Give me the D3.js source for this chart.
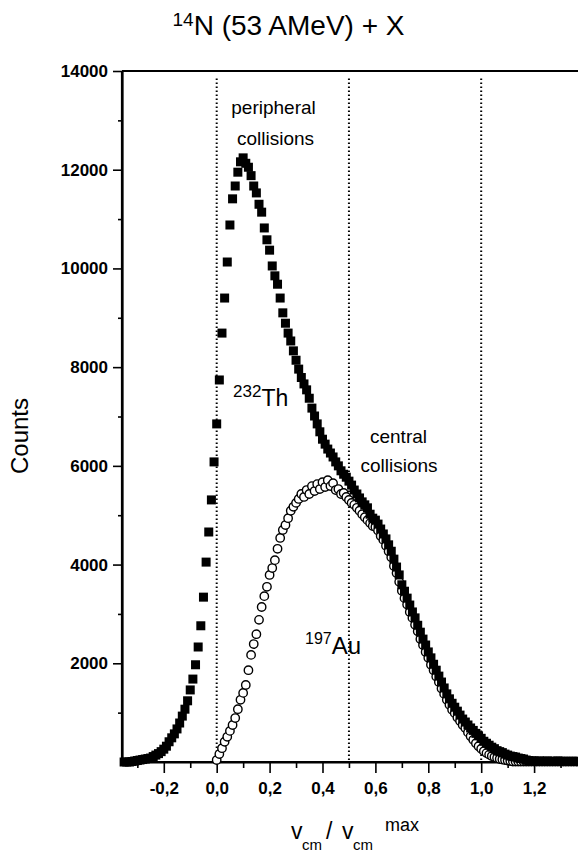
<!DOCTYPE html>
<html><head><meta charset="utf-8">
<script src="https://cdn.jsdelivr.net/npm/d3@7"></script>
<style>body{margin:0;background:#fff} svg{display:block}</style>
</head><body>
<svg id="c" width="578" height="854"></svg>
<script>
// v_cm / v_cm^max bin centres
const velocity = [-0.35,-0.34,-0.33,-0.32,-0.31,-0.30,-0.29,-0.28,-0.27,-0.26,-0.25,-0.24,-0.23,-0.22,-0.21,-0.20,-0.19,-0.18,-0.17,-0.16,-0.15,-0.14,-0.13,-0.12,-0.11,-0.10,-0.09,-0.08,-0.07,-0.06,-0.05,-0.04,-0.03,-0.02,-0.01,
0.00,0.01,0.02,0.03,0.04,0.05,0.06,0.07,0.08,0.09,0.10,0.11,0.12,0.13,0.14,0.15,0.16,0.17,0.18,0.19,0.20,0.21,0.22,0.23,0.24,0.25,0.26,0.27,0.28,0.29,0.30,0.31,0.32,0.33,0.34,0.35,0.36,0.37,0.38,0.39,0.40,0.41,0.42,0.43,0.44,0.45,0.46,0.47,0.48,0.49,0.50,0.51,0.52,0.53,0.54,0.55,0.56,0.57,0.58,0.59,0.60,0.61,0.62,0.63,0.64,0.65,0.66,0.67,0.68,0.69,0.70,0.71,0.72,0.73,0.74,0.75,0.76,0.77,0.78,0.79,0.80,0.81,0.82,0.83,0.84,0.85,0.86,0.87,0.88,0.89,0.90,0.91,0.92,0.93,0.94,0.95,0.96,0.97,0.98,0.99,1.00,1.01,1.02,1.03,1.04,1.05,1.06,1.07,1.08,1.09,1.10,1.11,1.12,1.13,1.14,1.15,1.16,1.17,1.18,1.19,1.20,1.21,1.22,1.23,1.24,1.25,1.26,1.27,1.28,1.29,1.30,1.31,1.32,1.33,1.34,1.35,1.36];

// 232Th counts (filled squares)
const thCounts = [0,0,0,10,20,30,40,50,60,70,80,110,140,170,210,260,320,410,490,570,670,790,930,1070,1240,1460,1680,1970,2330,2760,3340,4050,4660,5310,6080,
6850,7740,8690,9400,10130,10880,11410,11670,11950,12160,12240,12130,12050,11880,11670,11530,11300,11140,10820,10580,10370,10050,9850,9680,9400,9100,8890,8690,8530,8330,8140,7960,7790,7660,7540,7370,7170,7010,6850,6690,6540,6440,6340,6260,6180,6080,6000,5900,5830,5770,5690,5610,5510,5430,5350,5270,5210,5150,5020,4940,4900,4820,4720,4620,4520,4400,4270,4110,3950,3790,3590,3460,3320,3180,3040,2920,2770,2630,2490,2370,2230,2110,1980,1860,1740,1620,1500,1380,1280,1190,1110,1030,950,870,810,750,690,640,580,530,480,420,380,340,300,270,230,210,190,160,140,120,110,100,80,70,60,40,30,20,20,10,20,10,10,20,10,10,10,20,10,10,10,10,10,10,10];

// 197Au counts (open circles), none below 0
const auCounts = [null,null,null,null,null,null,null,null,null,null,null,null,null,null,null,null,null,null,null,null,null,null,null,null,null,null,null,null,null,null,null,null,null,null,null,
40,160,280,410,510,630,750,890,1070,1260,1400,1560,1860,2170,2390,2590,2880,3140,3360,3550,3790,3930,4090,4320,4540,4700,4800,4940,5090,5170,5250,5330,5430,5370,5510,5430,5590,5490,5630,5530,5670,5570,5710,5590,5650,5510,5530,5430,5450,5370,5310,5250,5210,5150,5090,5020,4960,4900,4840,4780,4760,4690,4580,4500,4380,4270,4150,3970,3830,3650,3470,3320,3190,3040,2920,2780,2650,2490,2370,2230,2110,1970,1860,1730,1620,1490,1380,1260,1160,1060,990,900,830,750,690,600,520,450,380,320,270,220,180,150,120,100,80,60,50,40,30,20,10,10,10,10,10,10,10,10,10,10,10,10,10,10,10,10,10,10,10,10,10,10,10,10,10];

const xTicksMajor = [-0.2,0.0,0.2,0.4,0.6,0.8,1.0,1.2];
const xTicksMinor = [-0.3,-0.1,0.1,0.3,0.5,0.7,0.9,1.1,1.3];
const yTicksMajor = [2000,4000,6000,8000,10000,12000,14000];
const yTicksMinor = [1000,3000,5000,7000,9000,11000,13000];
const dividers = [0.0,0.5,1.0];

const FONT = "'Liberation Sans', Arial, Helvetica, sans-serif";
const svg = d3.select("#c");
const x = d3.scaleLinear().domain([-0.358, 1.366]).range([122, 578]);
const y = d3.scaleLinear().domain([0, 14000]).range([762, 71]);

// dotted dividers
svg.append("g").selectAll("line").data(dividers).join("line")
  .attr("x1", d => x(d)).attr("x2", d => x(d))
  .attr("y1", y(13850)).attr("y2", y(0))
  .attr("stroke", "#000").attr("stroke-width", 2)
  .attr("stroke-dasharray", "1.6,2.4");

// top frame line
svg.append("line").attr("x1", x(-0.358)).attr("x2", 578).attr("y1", y(14000)).attr("y2", y(14000))
  .attr("stroke", "#000").attr("stroke-width", 1.8);

// axes
const fmtX = d => d3.format(".1f")(d).replace("−", "-").replace(".", ",");
const gx = svg.append("g").attr("transform", `translate(0,${y(0)})`)
  .call(d3.axisBottom(x).tickValues(xTicksMajor).tickFormat(fmtX).tickSize(11).tickPadding(9));
const gxm = svg.append("g").attr("transform", `translate(0,${y(0)})`)
  .call(d3.axisBottom(x).tickValues(xTicksMinor).tickFormat("").tickSize(6).tickSizeOuter(0));
const gy = svg.append("g").attr("transform", `translate(${x(-0.358)},0)`)
  .call(d3.axisLeft(y).tickValues(yTicksMajor).tickFormat(d3.format("d")).tickSize(9).tickPadding(5));
const gym = svg.append("g").attr("transform", `translate(${x(-0.358)},0)`)
  .call(d3.axisLeft(y).tickValues(yTicksMinor).tickFormat("").tickSize(4).tickSizeOuter(0));
[gx, gxm, gy, gym].forEach(g => {
  g.selectAll(".domain").attr("stroke", "#000").attr("stroke-width", 2.2);
  g.selectAll(".tick line").attr("stroke", "#000").attr("stroke-width", 1.6);
  g.selectAll("text").attr("fill", "#000").attr("font-family", FONT).attr("font-weight", "bold");
});
gx.selectAll("text").attr("font-size", 17);
gy.selectAll("text").attr("font-size", 17);
gx.select(".domain").attr("d", `M122,0H578`);
gy.select(".domain").attr("d", `M0,${y(14000)}V${y(0)}`);

// open circles (197Au)
const auData = velocity.map((v, i) => ({v, c: auCounts[i]})).filter(d => d.c !== null);
svg.append("g").selectAll("circle").data(auData).join("circle")
  .attr("cx", d => x(d.v)).attr("cy", d => y(d.c)).attr("r", 4.2)
  .attr("fill", "#fff").attr("stroke", "#000").attr("stroke-width", 1.4);

// filled squares (232Th)
const thData = velocity.map((v, i) => ({v, c: thCounts[i]}));
svg.append("g").selectAll("rect").data(thData).join("rect")
  .attr("x", d => x(d.v) - 4.5).attr("y", d => y(d.c) - 4.5)
  .attr("width", 9).attr("height", 9).attr("fill", "#000");

// title
const t = svg.append("text").attr("x", 288.5).attr("y", 35).attr("text-anchor", "middle")
  .attr("font-family", FONT).attr("font-size", 28).attr("fill", "#000");
t.append("tspan").attr("font-size", 19).attr("dy", -9).text("14");
t.append("tspan").attr("dy", 9).text("N (53 AMeV) + X");

// y axis title
svg.append("text").attr("transform", "translate(28,436) rotate(-90)").attr("text-anchor", "middle")
  .attr("font-family", FONT).attr("font-size", 24).attr("fill", "#000").text("Counts");

// x axis title
const xt = svg.append("g").attr("font-family", FONT).attr("fill", "#000");
xt.append("text").attr("x", 291).attr("y", 839).attr("font-size", 23).text("v");
xt.append("text").attr("x", 302).attr("y", 850).attr("font-size", 15).text("cm");
xt.append("text").attr("x", 326).attr("y", 839).attr("font-size", 23).text("/");
xt.append("text").attr("x", 342).attr("y", 839).attr("font-size", 23).text("v");
xt.append("text").attr("x", 353).attr("y", 850).attr("font-size", 15).text("cm");
xt.append("text").attr("x", 385).attr("y", 831).attr("font-size", 18).text("max");

// annotations
const ann = svg.append("g").attr("font-family", FONT).attr("font-size", 19).attr("fill", "#000").attr("text-anchor", "middle");
ann.append("text").attr("x", 273.5).attr("y", 114).text("peripheral");
ann.append("text").attr("x", 275.5).attr("y", 145).text("collisions");
ann.append("text").attr("x", 398.5).attr("y", 443).text("central");
ann.append("text").attr("x", 399).attr("y", 472).text("collisions");

const th = svg.append("text").attr("x", 233).attr("y", 406).attr("font-family", FONT).attr("font-size", 23).attr("fill", "#000");
th.append("tspan").attr("font-size", 17).attr("dy", -9).text("232");
th.append("tspan").attr("dy", 9).text("Th");

const au = svg.append("text").attr("x", 305).attr("y", 654).attr("font-family", FONT).attr("font-size", 24).attr("fill", "#000");
au.append("tspan").attr("font-size", 16).attr("dy", -10).text("197");
au.append("tspan").attr("dy", 10).text("Au");
</script>
</body></html>
